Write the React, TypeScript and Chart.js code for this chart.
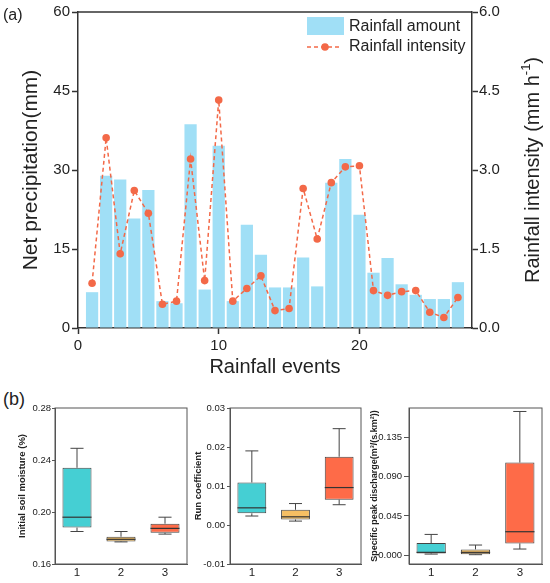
import React, { useEffect, useRef } from 'react';
import { Chart, registerables } from 'chart.js';

Chart.register(...registerables);

const FONT = '"Liberation Sans", Arial, sans-serif';
Chart.defaults.font.family = FONT;
Chart.defaults.color = '#222';

// (a) rainfall events
const events = [1, 2, 3, 4, 5, 6, 7, 8, 9, 10, 11, 12, 13, 14, 15, 16, 17, 18, 19, 20, 21, 22, 23, 24, 25, 26, 27];
const rainfallAmount = [6.8, 28.9, 28.2, 20.8, 26.2, 5.1, 4.7, 38.7, 7.3, 34.6, 5.1, 19.6, 13.9, 7.7, 7.7, 13.4, 7.9, 27.6, 32.1, 21.5, 10.5, 13.3, 8.3, 6.3, 5.5, 5.5, 8.7];
const rainfallIntensity = [0.85, 3.61, 1.41, 2.61, 2.18, 0.45, 0.51, 3.21, 0.9, 4.33, 0.51, 0.75, 0.99, 0.33, 0.37, 2.65, 1.69, 2.76, 3.06, 3.08, 0.71, 0.62, 0.69, 0.71, 0.3, 0.2, 0.58];
const eventTicks = [0, 10, 20];
const amountTicks = [0, 15, 30, 45, 60];
const intensityTicks = [0, 1.5, 3, 4.5, 6];

// (b) box plots, each group: [min, q1, median, q3, max]
const groups = ['1', '2', '3'];
const soilMoisture = [
  [0.185, 0.188, 0.196, 0.234, 0.249],
  [0.177, 0.1774, 0.179, 0.181, 0.185],
  [0.183, 0.184, 0.1874, 0.191, 0.196],
];
const runCoefficient = [
  [0.0023, 0.003, 0.0044, 0.0109, 0.019],
  [0.001, 0.0014, 0.0021, 0.0039, 0.0055],
  [0.0052, 0.0065, 0.0096, 0.0175, 0.0247],
];
const peakDischarge = [
  [0.0011, 0.0019, 0.0031, 0.0138, 0.0237],
  [0.0004, 0.0008, 0.0031, 0.0065, 0.0115],
  [0.0069, 0.0134, 0.0268, 0.1063, 0.165],
];
const soilTicks = [0.16, 0.2, 0.24, 0.28];
const runTicks = [-0.01, 0, 0.01, 0.02, 0.03];
const dischargeTicks = [0, 0.045, 0.09, 0.135];
const boxColors = ['#45cfd3', '#f6bf63', '#fe6b48'];

const BAR_COLOR = 'rgb(160,223,246)';
const DOT_COLOR = 'rgb(243,105,72)';
const AXIS = '#333';

function RainfallChart() {
  const ref = useRef<HTMLCanvasElement | null>(null);

  useEffect(() => {
    if (!ref.current) return;

    const extras = {
      id: 'rainExtras',
      afterDraw(chart: any) {
        const { ctx, chartArea } = chart;
        ctx.save();
        // top border
        ctx.strokeStyle = AXIS;
        ctx.lineWidth = 1.5;
        ctx.beginPath();
        ctx.moveTo(chartArea.left, chartArea.top);
        ctx.lineTo(chartArea.right, chartArea.top);
        ctx.stroke();

        // right axis title, reading bottom to top with a superscript
        ctx.translate(533, (chartArea.top + chartArea.bottom) / 2);
        ctx.rotate(-Math.PI / 2);
        ctx.fillStyle = '#222';
        ctx.textBaseline = 'middle';
        ctx.textAlign = 'left';
        const big = `20px ${FONT}`;
        const small = `13px ${FONT}`;
        ctx.font = big;
        const w1 = ctx.measureText('Rainfall intensity (mm h').width;
        const w3 = ctx.measureText(')').width;
        ctx.font = small;
        const w2 = ctx.measureText('-1').width;
        let x = -(w1 + w2 + w3) / 2;
        ctx.font = big;
        ctx.fillText('Rainfall intensity (mm h', x, 0);
        x += w1;
        ctx.font = small;
        ctx.fillText('-1', x, -7);
        x += w2;
        ctx.font = big;
        ctx.fillText(')', x, 0);
        ctx.restore();

        // legend
        ctx.save();
        ctx.fillStyle = BAR_COLOR;
        ctx.fillRect(307, 17, 37, 18);
        ctx.strokeStyle = DOT_COLOR;
        ctx.lineWidth = 1.5;
        ctx.setLineDash([4, 3]);
        ctx.beginPath();
        ctx.moveTo(307, 47);
        ctx.lineTo(342, 47);
        ctx.stroke();
        ctx.setLineDash([]);
        ctx.fillStyle = DOT_COLOR;
        ctx.beginPath();
        ctx.arc(325, 47, 3.8, 0, Math.PI * 2);
        ctx.fill();
        ctx.fillStyle = '#222';
        ctx.font = `16px ${FONT}`;
        ctx.textBaseline = 'middle';
        ctx.fillText('Rainfall amount', 349, 27);
        ctx.fillText('Rainfall intensity', 349, 47);
        ctx.restore();
      },
    };

    const chart = new Chart(ref.current, {
      type: 'bar',
      data: {
        datasets: [
          {
            type: 'line',
            label: 'Rainfall intensity',
            data: events.map((x, i) => ({ x, y: rainfallIntensity[i] })),
            yAxisID: 'y1',
            borderColor: DOT_COLOR,
            borderWidth: 1.5,
            borderDash: [4, 3],
            pointRadius: 3.8,
            pointBackgroundColor: DOT_COLOR,
            pointBorderWidth: 0,
            order: 0,
          } as any,
          {
            type: 'bar',
            label: 'Rainfall amount',
            data: events.map((x, i) => ({ x, y: rainfallAmount[i] })),
            yAxisID: 'y',
            backgroundColor: BAR_COLOR,
            barPercentage: 0.87,
            categoryPercentage: 1,
            order: 1,
          },
        ],
      },
      options: {
        animation: false,
        responsive: false,
        layout: { padding: { top: 12, left: 0, right: 0, bottom: 0 } },
        plugins: { legend: { display: false }, tooltip: { enabled: false } },
        scales: {
          x: {
            type: 'linear',
            min: 0,
            max: 28,
            offset: false,
            afterBuildTicks: (s: any) => {
              s.ticks = eventTicks.map((v) => ({ value: v }));
            },
            afterFit: (s: any) => {
              s.height = 52;
            },
            ticks: { font: { size: 15 }, padding: 3, maxRotation: 0, autoSkip: false, color: '#222' },
            grid: { drawOnChartArea: false, tickLength: 6, tickColor: AXIS, tickWidth: 1.5, offset: false },
            border: { color: AXIS, width: 1.5 },
            title: { display: true, text: 'Rainfall events', font: { size: 20 }, color: '#222', padding: { top: 0, bottom: 1 } },
          },
          y: {
            type: 'linear',
            position: 'left',
            min: 0,
            max: 60,
            afterBuildTicks: (s: any) => {
              s.ticks = amountTicks.map((v) => ({ value: v }));
            },
            afterFit: (s: any) => {
              s.width = 78;
            },
            ticks: { font: { size: 15 }, padding: 2, color: '#222' },
            grid: { drawOnChartArea: false, tickLength: 6, tickColor: AXIS, tickWidth: 1.5 },
            border: { color: AXIS, width: 1.5 },
            title: { display: true, text: 'Net precipitation(mm)', font: { size: 21 }, color: '#222', padding: { top: 19, bottom: 0 } },
          },
          y1: {
            type: 'linear',
            position: 'right',
            min: 0,
            max: 6,
            afterBuildTicks: (s: any) => {
              s.ticks = intensityTicks.map((v) => ({ value: v }));
            },
            afterFit: (s: any) => {
              s.width = 78;
            },
            ticks: { font: { size: 15 }, padding: 1, color: '#222', callback: (v: any) => Number(v).toFixed(1) },
            grid: { drawOnChartArea: false, tickLength: 6, tickColor: AXIS, tickWidth: 1.5 },
            border: { color: AXIS, width: 1.5 },
          },
        },
      },
      plugins: [extras],
    });

    return () => chart.destroy();
  }, []);

  return <canvas ref={ref} width={550} height={380} style={{ position: 'absolute', left: 0, top: 0 }} />;
}

interface BoxProps {
  stats: number[][];
  ticks: number[];
  min: number;
  max: number;
  digits: number;
  title: string;
  titleSize: number;
  titlePad: number;
  left: number;
  width: number;
  axisWidth: number;
  rightPad: number;
  tickLen: number;
  tickPad: number;
}

function BoxPanel(props: BoxProps) {
  const ref = useRef<HTMLCanvasElement | null>(null);

  useEffect(() => {
    if (!ref.current) return;
    const { stats } = props;

    const whiskers = {
      id: 'whiskers',
      afterDatasetsDraw(chart: any) {
        const { ctx, chartArea } = chart;
        const xs = chart.scales.x;
        const ys = chart.scales.y;
        const meta = chart.getDatasetMeta(0);
        ctx.save();
        ctx.strokeStyle = '#444';
        ctx.lineWidth = 1;
        stats.forEach((s, i) => {
          const cx = xs.getPixelForValue(i);
          const bw = meta.data[i].width;
          const cap = bw * 0.45;
          const [lo, q1, med, q3, hi] = s.map((v) => ys.getPixelForValue(v));
          ctx.beginPath();
          ctx.moveTo(cx, q3);
          ctx.lineTo(cx, hi);
          ctx.moveTo(cx - cap / 2, hi);
          ctx.lineTo(cx + cap / 2, hi);
          ctx.moveTo(cx, q1);
          ctx.lineTo(cx, lo);
          ctx.moveTo(cx - cap / 2, lo);
          ctx.lineTo(cx + cap / 2, lo);
          ctx.stroke();
          ctx.save();
          ctx.strokeStyle = '#333';
          ctx.lineWidth = 1.2;
          ctx.beginPath();
          ctx.moveTo(cx - bw / 2, med);
          ctx.lineTo(cx + bw / 2, med);
          ctx.stroke();
          ctx.restore();
        });
        // frame
        ctx.strokeStyle = '#555';
        ctx.lineWidth = 1;
        ctx.strokeRect(chartArea.left, chartArea.top, chartArea.right - chartArea.left, chartArea.bottom - chartArea.top);
        ctx.restore();
      },
    };

    const chart = new Chart(ref.current, {
      type: 'bar',
      data: {
        labels: groups,
        datasets: [
          {
            label: props.title,
            data: stats.map((s) => [s[1], s[3]]) as any,
            backgroundColor: boxColors,
            borderColor: '#444',
            borderWidth: 1,
            borderSkipped: false,
            barPercentage: 0.66,
            categoryPercentage: 1,
          },
        ],
      },
      options: {
        animation: false,
        responsive: false,
        layout: { padding: { top: 23, right: props.rightPad, left: 0, bottom: 0 } },
        plugins: { legend: { display: false }, tooltip: { enabled: false } },
        scales: {
          x: {
            afterFit: (s: any) => {
              s.height = 19;
            },
            ticks: { font: { size: 11.5 }, padding: 2, color: '#222' },
            grid: { display: false, drawTicks: false },
            border: { color: '#555', width: 1 },
          },
          y: {
            min: props.min,
            max: props.max,
            afterBuildTicks: (s: any) => {
              s.ticks = props.ticks.map((v) => ({ value: v }));
            },
            afterFit: (s: any) => {
              s.width = props.axisWidth;
            },
            ticks: {
              font: { size: 9.5 },
              padding: props.tickPad,
              color: '#222',
              callback: (v: any) => Number(v).toFixed(props.digits),
            },
            grid: { drawOnChartArea: false, tickLength: props.tickLen, tickColor: '#555' },
            border: { color: '#555', width: 1 },
            title: {
              display: true,
              text: props.title,
              font: { size: props.titleSize, weight: 'bold' },
              color: '#222',
              padding: { top: props.titlePad, bottom: 0 },
            },
          },
        },
      },
      plugins: [whiskers],
    });

    return () => chart.destroy();
  }, []);

  return (
    <canvas
      ref={ref}
      width={props.width}
      height={198}
      style={{ position: 'absolute', left: props.left, top: 385 }}
    />
  );
}

export default function App() {
  useEffect(() => {
    document.body.style.margin = '0';
  }, []);

  const label: React.CSSProperties = {
    position: 'absolute',
    fontFamily: FONT,
    color: '#222',
    lineHeight: 1,
  };

  return (
    <div style={{ position: 'relative', width: 550, height: 583, background: '#fff', overflow: 'hidden' }}>
      <RainfallChart />
      <div style={{ ...label, left: 3, top: 7, fontSize: 16 }}>(a)</div>
      <div style={{ ...label, left: 3, top: 390, fontSize: 18 }}>(b)</div>
      <BoxPanel
        stats={soilMoisture}
        ticks={soilTicks}
        min={0.16}
        max={0.28}
        digits={2}
        title="Initial soil moisture (%)"
        titleSize={9.5}
        titlePad={17}
        left={0}
        width={190}
        axisWidth={55}
        rightPad={3}
        tickLen={3}
        tickPad={1}
      />
      <BoxPanel
        stats={runCoefficient}
        ticks={runTicks}
        min={-0.01}
        max={0.03}
        digits={2}
        title="Run coefficient"
        titleSize={9.5}
        titlePad={3}
        left={190}
        width={175}
        axisWidth={40}
        rightPad={4}
        tickLen={3}
        tickPad={2}
      />
      <BoxPanel
        stats={peakDischarge}
        ticks={dischargeTicks}
        min={-0.0103}
        max={0.169}
        digits={3}
        title="Specific peak discharge(m³/(s.km²))"
        titleSize={9}
        titlePad={4.5}
        left={365}
        width={185}
        axisWidth={44}
        rightPad={8}
        tickLen={5}
        tickPad={2}
      />
    </div>
  );
}
